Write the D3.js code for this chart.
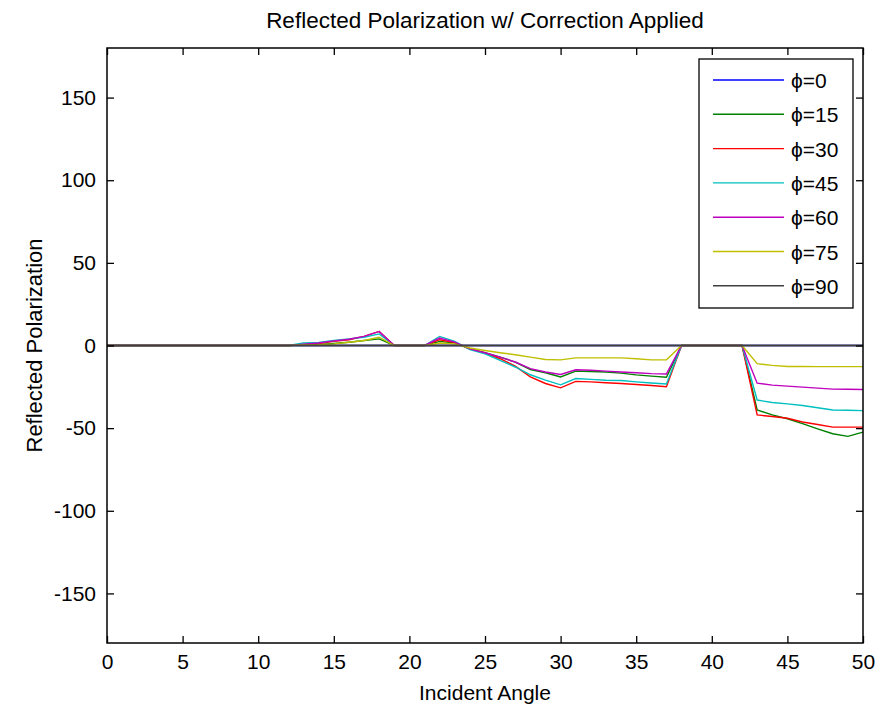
<!DOCTYPE html>
<html>
<head>
<meta charset="utf-8">
<script src="https://cdn.jsdelivr.net/npm/d3@7"></script>
<style>
  body { margin: 0; background: #fff; }
  text { font-family: "Liberation Sans", Arial, sans-serif; fill: #000; }
</style>
</head>
<body>
<div id="chart"></div>
<script>
var svgWidth = 890;
var svgHeight = 707;

var margin = { top: 48, right: 27, bottom: 64, left: 107 };
var width = svgWidth - margin.left - margin.right;
var height = svgHeight - margin.top - margin.bottom;

// incident angles (deg)
var angles = d3.range(0, 51);

// reflected polarization for each phi
var zeros12 = [0,0,0,0,0,0,0,0,0,0,0,0,0];
var phi0 = angles.map(function() { return 0; });
var phi15 = zeros12.concat([0.3,0.6,1.2,2,3,4, 0,0,0, 2.5,1.5,-2,
  -4.4,-7,-10,-14.5,-16.5,-19,-15.5,-15.7,-16,-16.7,-17.8,-18.5,-19.2,
  0,0,0,0,0, -39,-42,-44.3,-47.3,-50.4,-53.4,-55,-52.4]);
var phi30 = zeros12.concat([0.5,1.2,2.5,3.5,5.5,8.5, 0,0,0, 3.5,1.8,-2,
  -4.6,-8,-12.5,-19,-23,-25.6,-21.7,-22,-22.5,-23,-23.6,-24.2,-25,
  0,0,0,0,0, -42,-43,-44,-46.3,-47.8,-49.4,-49.4,-49.4]);
var phi45 = zeros12.concat([1.5,1.8,3,4,5,7, 0,0,0, 5.5,2.5,-2.5,
  -5,-9,-13,-17.7,-21,-23.8,-20,-20.5,-21,-21.2,-22,-22.7,-23.3,
  0,0,0,0,0, -33,-34.5,-35.3,-36.3,-37.7,-39,-39.2,-39.4]);
var phi60 = zeros12.concat([0.8,1.5,2.8,3.8,5.5,8.5, 0,0,0, 4.5,2,-2,
  -4.4,-7,-10,-14,-16,-17.5,-14.7,-15,-15.5,-16,-16.5,-17,-17.2,
  0,0,0,0,0, -22.8,-24,-24.6,-25.2,-25.8,-26.4,-26.5,-26.6]);
var phi75 = zeros12.concat([0.3,0.5,1,2,3,5, 0,0,0, 1.5,1,-1.5,
  -3,-4.4,-5.6,-7,-8.5,-8.7,-7.5,-7.5,-7.5,-7.5,-8,-8.7,-8.7,
  0,0,0,0,0, -11,-12,-12.7,-12.7,-12.8,-12.8,-12.8,-12.8]);
var phi90 = angles.map(function() { return 0; });

var seriesNames = ["\u03d5=0", "\u03d5=15", "\u03d5=30", "\u03d5=45", "\u03d5=60", "\u03d5=75", "\u03d5=90"];
var seriesValues = [phi0, phi15, phi30, phi45, phi60, phi75, phi90];
var seriesColors = ["#0000ff", "#008000", "#ff0000", "#00bfbf", "#bf00bf", "#bfbf00", "#404040"];

var xTicks = d3.range(0, 51, 5);
var yTicks = [-150, -100, -50, 0, 50, 100, 150];

var svg = d3.select("#chart")
  .append("svg")
  .attr("width", svgWidth)
  .attr("height", svgHeight);

var chartGroup = svg.append("g")
  .attr("transform", `translate(${margin.left}, ${margin.top})`);

var xScale = d3.scaleLinear().domain([0, 50]).range([0, width]);
var yScale = d3.scaleLinear().domain([-180, 180]).range([height, 0]);

// lines
var line = d3.line()
  .x(function(d, i) { return xScale(angles[i]); })
  .y(function(d) { return yScale(d); });

seriesValues.forEach(function(vals, i) {
  chartGroup.append("path")
    .datum(vals)
    .attr("fill", "none")
    .attr("stroke", seriesColors[i])
    .attr("stroke-width", i === 6 ? 1.8 : 1.4)
    .attr("d", line);
});

// axes, ticks inside on all four sides (box on)
var tickLen = 7;
var plain = function(d) { return String(d); };
var bottomAxis = d3.axisBottom(xScale).tickValues(xTicks).tickSizeInner(-tickLen).tickSizeOuter(0).tickPadding(11).tickFormat(plain);
var leftAxis = d3.axisLeft(yScale).tickValues(yTicks).tickSizeInner(-tickLen).tickSizeOuter(0).tickPadding(11).tickFormat(plain);
var topAxis = d3.axisTop(xScale).tickValues(xTicks).tickSizeInner(-tickLen).tickSizeOuter(0).tickFormat("");
var rightAxis = d3.axisRight(yScale).tickValues(yTicks).tickSizeInner(-tickLen).tickSizeOuter(0).tickFormat("");

var gx = chartGroup.append("g").attr("transform", `translate(0, ${height})`).call(bottomAxis);
var gy = chartGroup.append("g").call(leftAxis);
var gt = chartGroup.append("g").call(topAxis);
var gr = chartGroup.append("g").attr("transform", `translate(${width}, 0)`).call(rightAxis);

[gx, gy, gt, gr].forEach(function(g) {
  g.select(".domain").remove();
  g.selectAll(".tick line").attr("stroke", "#000").attr("stroke-width", 1.3);
  g.selectAll(".tick text").attr("font-size", "21px").attr("fill", "#000");
});

// frame
chartGroup.append("rect")
  .attr("width", width)
  .attr("height", height)
  .attr("fill", "none")
  .attr("stroke", "#000")
  .attr("stroke-width", 1.5);

// title and axis labels
svg.append("text")
  .attr("x", margin.left + width / 2)
  .attr("y", 28)
  .attr("text-anchor", "middle")
  .attr("font-size", "22.5px")
  .text("Reflected Polarization w/ Correction Applied");

svg.append("text")
  .attr("x", margin.left + width / 2)
  .attr("y", 700)
  .attr("text-anchor", "middle")
  .attr("font-size", "21px")
  .text("Incident Angle");

svg.append("text")
  .attr("transform", `translate(42, ${margin.top + height / 2}) rotate(-90)`)
  .attr("text-anchor", "middle")
  .attr("font-size", "22px")
  .text("Reflected Polarization");

// legend
var legend = svg.append("g").attr("transform", "translate(699, 59)");
legend.append("rect")
  .attr("width", 154)
  .attr("height", 249)
  .attr("fill", "#fff")
  .attr("stroke", "#000")
  .attr("stroke-width", 1.3);

seriesNames.forEach(function(name, i) {
  var y = 21 + i * 34.3;
  legend.append("line")
    .attr("x1", 14).attr("x2", 85)
    .attr("y1", y).attr("y2", y)
    .attr("stroke", seriesColors[i])
    .attr("stroke-width", 1.4);
  legend.append("text")
    .attr("x", 92)
    .attr("y", y + 8)
    .attr("font-size", "21px")
    .text(name);
});
</script>
</body>
</html>
